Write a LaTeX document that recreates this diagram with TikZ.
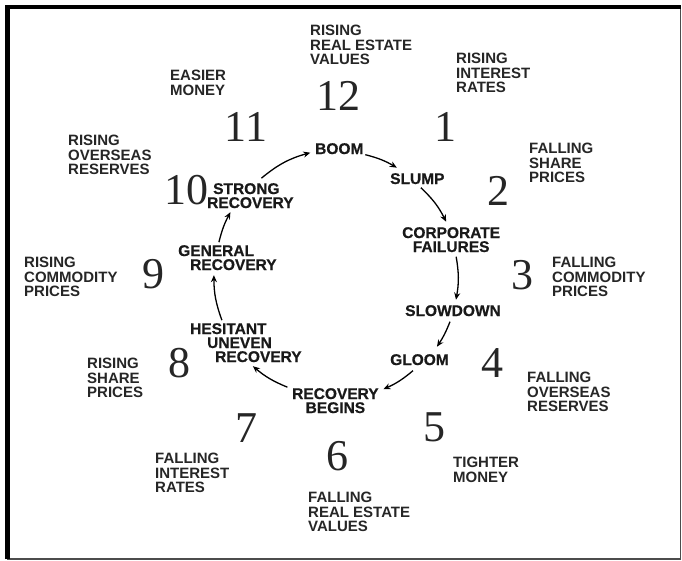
\documentclass[tikz,border=0pt]{standalone}
\usepackage{fontspec}
\setmainfont{Liberation Serif}
\newfontfamily\lblfont{Liberation Sans}
\newfontfamily\cycfont[BoldFeatures={FakeBold=0.6}]{Liberation Sans}
\usetikzlibrary{arrows.meta}
\begin{document}
\begin{tikzpicture}[x=1pt,y=-1pt,
  lbl/.style={font=\lblfont\bfseries\fontsize{15}{14.6}\selectfont, align=left, inner sep=0pt, anchor=north west, text=black!85},
  cyc/.style={font=\cycfont\bfseries\fontsize{15.5}{14}\selectfont, align=left, inner sep=0pt, anchor=north west, text=black!90},
  cycc/.style={cyc, align=center},
  num/.style={font=\fontsize{44}{44}\selectfont, inner sep=0pt, text=black!85},
  arr/.style={line width=1.3pt, -{Stealth[length=7pt,width=6pt]}}]
\useasboundingbox (0,0) rectangle (682,561);
\fill[white] (0,0) rectangle (682,561);
% frame
\draw[line width=1.5pt, black!70] (7,7) -- (680.5,7) -- (680.5,559) -- (7,559);
\draw[line width=4.5pt, black] (7.5,559) -- (7.5,7) -- (681,7);

% cycle labels
\node[cyc]  (boom)   at (315,143) {BOOM};
\node[cyc]  (slump)  at (390,173) {SLUMP};
\node[cycc] (corp)   at (402,227) {CORPORATE\\FAILURES};
\node[cyc]  (slow)   at (405,305) {SLOWDOWN};
\node[cyc]  (gloom)  at (390,354) {GLOOM};
\node[cycc] (recb)   at (292,388) {RECOVERY\\BEGINS};
\node[cyc]  (hes)    at (190,323) {HESITANT\\\hspace*{17pt}UNEVEN\\\hspace*{25pt}RECOVERY};
\node[cyc]  (gen)    at (178,245) {GENERAL\\\hspace*{12pt}RECOVERY};
\node[cyc]  (strong) at (207,183) {\hspace*{6pt}STRONG\\RECOVERY};

% arrows
\draw[arr] ([shift={(11,-17.5)}]strong.center) to[bend left=12] ([shift={(-29,4)}]boom.center);
\draw[arr] ([shift={(26,6)}]boom.center) to[bend left=8] ([shift={(-20.5,-11)}]slump.center);
\draw[arr] ([shift={(3.5,9)}]slump.center) to[bend left=10] ([shift={(-5,-18)}]corp.center);
\draw[arr] ([shift={(5,17)}]corp.center) to[bend left=10] ([shift={(3,-11)}]slow.center);
\draw[arr] ([shift={(-3,11)}]slow.center) to[bend left=6] ([shift={(17.5,-13)}]gloom.center);
\draw[arr] ([shift={(-6.5,11)}]gloom.center) to[bend left=8] ([shift={(48,-11.5)}]recb.center);
\draw[arr] ([shift={(-48,-13.5)}]recb.center) to[bend left=9] ([shift={(7,23.5)}]hes.center);
\draw[arr] ([shift={(-24,-22.5)}]hes.center) to[bend left=10] ([shift={(-13.5,17.5)}]gen.center);
\draw[arr] ([shift={(-8.5,-15.5)}]gen.center) to[bend left=7] ([shift={(-20,16.5)}]strong.center);

% clock numbers
\node[num] (n12) at (338,96) {12};
\node[num] (n1)  at (445,127) {1};
\node[num] (n2)  at (498,191) {2};
\node[num] (n3)  at (522,275) {3};
\node[num] (n4)  at (492,363) {4};
\node[num] (n5)  at (434,427) {5};
\node[num] (n6)  at (337,456) {6};
\node[num] (n7)  at (246,428) {7};
\node[num] (n8)  at (179,363) {8};
\node[num] (n9)  at (153,274) {9};
\node[num] (n10) at (186,190) {10};
\node[num] (n11) at (246,127) {11};

% outer labels
\node[lbl] (l12) at (310,25)  {RISING\\REAL ESTATE\\VALUES};
\node[lbl] (l1)  at (456,53)  {RISING\\INTEREST\\RATES};
\node[lbl] (l2)  at (529,143) {FALLING\\SHARE\\PRICES};
\node[lbl] (l3)  at (552,257) {FALLING\\COMMODITY\\PRICES};
\node[lbl] (l4)  at (527,372) {FALLING\\OVERSEAS\\RESERVES};
\node[lbl] (l5)  at (453,457) {TIGHTER\\MONEY};
\node[lbl] (l6)  at (308,492) {FALLING\\REAL ESTATE\\VALUES};
\node[lbl] (l7)  at (155,453) {FALLING\\INTEREST\\RATES};
\node[lbl] (l8)  at (87,358)  {RISING\\SHARE\\PRICES};
\node[lbl] (l9)  at (24,257)  {RISING\\COMMODITY\\PRICES};
\node[lbl] (l10) at (68,135)  {RISING\\OVERSEAS\\RESERVES};
\node[lbl] (l11) at (170,70)  {EASIER\\MONEY};
\end{tikzpicture}
\end{document}
